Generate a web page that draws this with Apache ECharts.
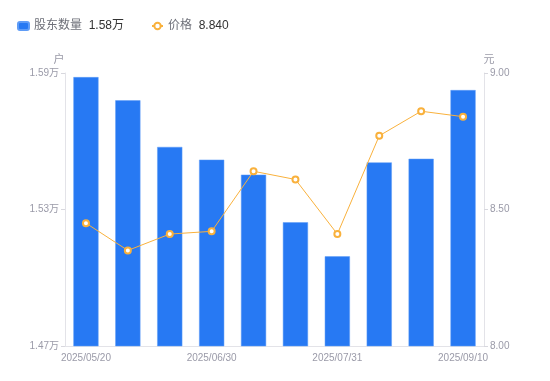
<!DOCTYPE html>
<html><head><meta charset="utf-8">
<script src="https://cdn.jsdelivr.net/npm/echarts@6/dist/echarts.min.js"></script>
<style>html,body{margin:0;padding:0;background:#fff}#c{width:550px;height:381px}</style>
</head><body><div id="c"></div>
<script>
const categories = ['2025/05/20','2025/05/31','2025/06/20','2025/06/30','2025/07/10','2025/07/20','2025/07/31','2025/08/20','2025/08/31','2025/09/10'];
const holders = [15882, 15780, 15575, 15519, 15453, 15244, 15094, 15507, 15523, 15825];
const prices = [8.45, 8.35, 8.41, 8.42, 8.64, 8.61, 8.41, 8.77, 8.86, 8.84];
const leftTicks = [14700, 15300, 15900];
const rightTicks = [8.0, 8.5, 9.0];

const font = '"Liberation Sans", Arial, "Noto Sans CJK SC", sans-serif';
const chart = echarts.init(document.getElementById('c'), null, {renderer:'canvas'});
const lastH = (holders[holders.length-1]/10000).toFixed(2) + '万';
const lastP = prices[prices.length-1].toFixed(3);
const axisColor = '#9a9aa8';
chart.setOption({
  animation:false,
  textStyle:{fontFamily:font},
  legend:{
    left:12, top:15, itemGap:27, itemWidth:11, itemHeight:8,
    data:[{name:'股东数量', icon:'roundRect'},{name:'价格', lineStyle:{width:2}}],
    formatter:function(n){return n==='股东数量' ? '{a|'+n+'}  {b|'+lastH+'}' : '{a|'+n+'}  {b|'+lastP+'}';},
    textStyle:{rich:{a:{color:'#6e7079',fontSize:12,fontFamily:font},b:{color:'#333',fontSize:12,fontFamily:font}}}
  },
  grid:{left:65, right:66, top:73, bottom:35},
  xAxis:{
    type:'category', data:categories,
    axisLine:{lineStyle:{color:'#e3e3e8'}},
    axisTick:{show:false},
    axisLabel:{interval:2, color:axisColor, fontSize:10, margin:7}
  },
  yAxis:[{
    type:'value', min:14700, max:15900, name:'户',
    nameTextStyle:{color:axisColor, fontSize:11, padding:[0,0,0,-12]}, nameGap:8,
    axisLine:{show:true, lineStyle:{color:'#e3e3e8'}},
    axisTick:{show:true, length:4, customValues:leftTicks, lineStyle:{color:'#d8d8de'}},
    axisLabel:{customValues:leftTicks, color:axisColor, fontSize:10, margin:6,
      formatter:function(v){return (v/10000).toFixed(2)+'万';}},
    splitLine:{show:false}
  },{
    type:'value', min:8, max:9, interval:0.5, name:'元', position:'right',
    nameTextStyle:{color:axisColor, fontSize:11, padding:[0,0,0,10]}, nameGap:8,
    axisLine:{show:true, lineStyle:{color:'#e3e3e8'}},
    axisTick:{show:true, length:4, lineStyle:{color:'#d8d8de'}},
    axisLabel:{color:axisColor, fontSize:10, margin:6, formatter:function(v){return v.toFixed(2);}},
    splitLine:{show:false}
  }],
  series:[{
    name:'股东数量', type:'bar', data:holders, barWidth:'60%', yAxisIndex:0,
    itemStyle:{color:'#2779f3', borderColor:'#5f9cf6', borderWidth:0.5}
  },{
    name:'价格', type:'line', data:prices, yAxisIndex:1,
    symbol:'emptyCircle', symbolSize:6,
    lineStyle:{color:'#f9b13c', width:1},
    itemStyle:{color:'#f9b13c', borderWidth:2}
  }]
});
</script></body></html>
